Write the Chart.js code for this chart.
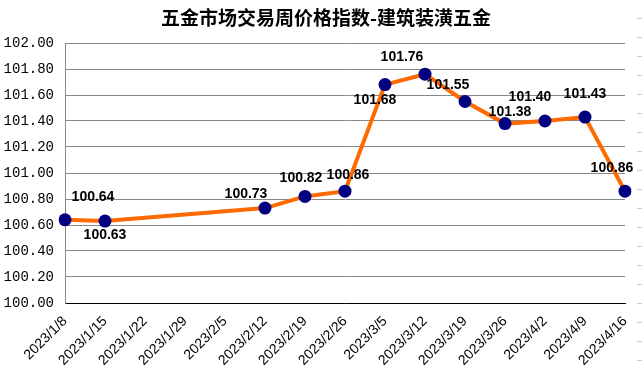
<!DOCTYPE html>
<html>
<head>
<meta charset="utf-8">
<script src="https://cdn.jsdelivr.net/npm/chart.js@4"></script>
<style>
  html,body{margin:0;padding:0;background:#fff;}
  canvas{display:block;}
</style>
</head>
<body>
<canvas id="chart" width="642" height="379"></canvas>
<script>
(function(){
  "use strict";
  const TITLE="五金市场交易周价格指数-建筑装潢五金";
  const WEEKS=["2023/1/8","2023/1/15","2023/1/22","2023/1/29","2023/2/5","2023/2/12","2023/2/19","2023/2/26","2023/3/5","2023/3/12","2023/3/19","2023/3/26","2023/4/2","2023/4/9","2023/4/16"];
  const INDEX=[100.64,100.63,null,null,null,100.73,100.82,100.86,101.68,101.76,101.55,101.38,101.40,101.43,100.86];
  const Y_MIN=100, Y_MAX=102, Y_STEP=0.2;

  // label offsets (px) from each point, as placed in the original
  const LABEL_OFF=[[28,-23],[0,14],null,null,null,[-19,-14],[-4,-18],[3,-16],[-10,16],[-23,-17],[-17,-16],[5,-11],[-15,-24],[0,-23],[-13,-23]];

  const titlePlugin={
    id:"titleTop",
    afterDraw(c){
      const ctx=c.ctx; ctx.save();
      ctx.font='bold 19px "Noto Sans CJK SC"';
      ctx.fillStyle="#000"; ctx.textAlign="center"; ctx.textBaseline="middle";
      ctx.fillText(TITLE,326,18);
      // small dashes at the right edge
      ctx.strokeStyle="#c8c8e0"; ctx.lineWidth=1;
      for(let y=18;y<379;y+=19){ctx.beginPath();ctx.moveTo(637,y+0.5);ctx.lineTo(642,y+0.5);ctx.stroke();}
      ctx.restore();
    }
  };

  const labelPlugin={
    id:"ptLabels",
    afterDatasetsDraw(c){
      const ctx=c.ctx, meta=c.getDatasetMeta(0);
      ctx.save();
      ctx.font='bold 14px "Liberation Sans", Arial';
      ctx.fillStyle="#000"; ctx.textAlign="center"; ctx.textBaseline="middle";
      meta.data.forEach((p,i)=>{
        const v=INDEX[i]; if(v==null) return;
        const o=LABEL_OFF[i]||[0,-18];
        ctx.fillText(v.toFixed(2),p.x+o[0],p.y+o[1]);
      });
      ctx.restore();
    }
  };

  new Chart(document.getElementById("chart"),{
    type:"line",
    data:{labels:WEEKS,datasets:[{
      data:INDEX,spanGaps:true,
      borderColor:"#FF6A00",borderWidth:4,tension:0,
      pointRadius:6.5,pointBackgroundColor:"#000080",pointBorderColor:"#000080",pointBorderWidth:0
    }]},
    options:{
      responsive:false,animation:false,
      devicePixelRatio:1,
      layout:{padding:{top:43,right:17,left:0,bottom:0}},
      plugins:{legend:{display:false},tooltip:{enabled:false}},
      scales:{
        x:{
          offset:false,
          grid:{display:false,drawTicks:false},
          border:{color:"#000",width:1},
          ticks:{autoSkip:false,minRotation:45,maxRotation:45,padding:10,color:"#000",
            font:{family:'"Liberation Sans", Arial',size:14}},
          afterFit(s){s.height=76;s.paddingLeft=0;s.paddingRight=0;}
        },
        y:{
          min:Y_MIN,max:Y_MAX,
          grid:{color:"#888",drawTicks:false},
          border:{color:"#888",width:1},
          ticks:{stepSize:Y_STEP,padding:11,color:"#000",
            font:{family:'"Liberation Mono", monospace',size:14},
            callback:v=>v.toFixed(2)},
          afterFit(s){s.width=65;s.paddingTop=0;s.paddingBottom=0;}
        }
      }
    },
    plugins:[titlePlugin,labelPlugin]
  });
})();
</script>
</body>
</html>
